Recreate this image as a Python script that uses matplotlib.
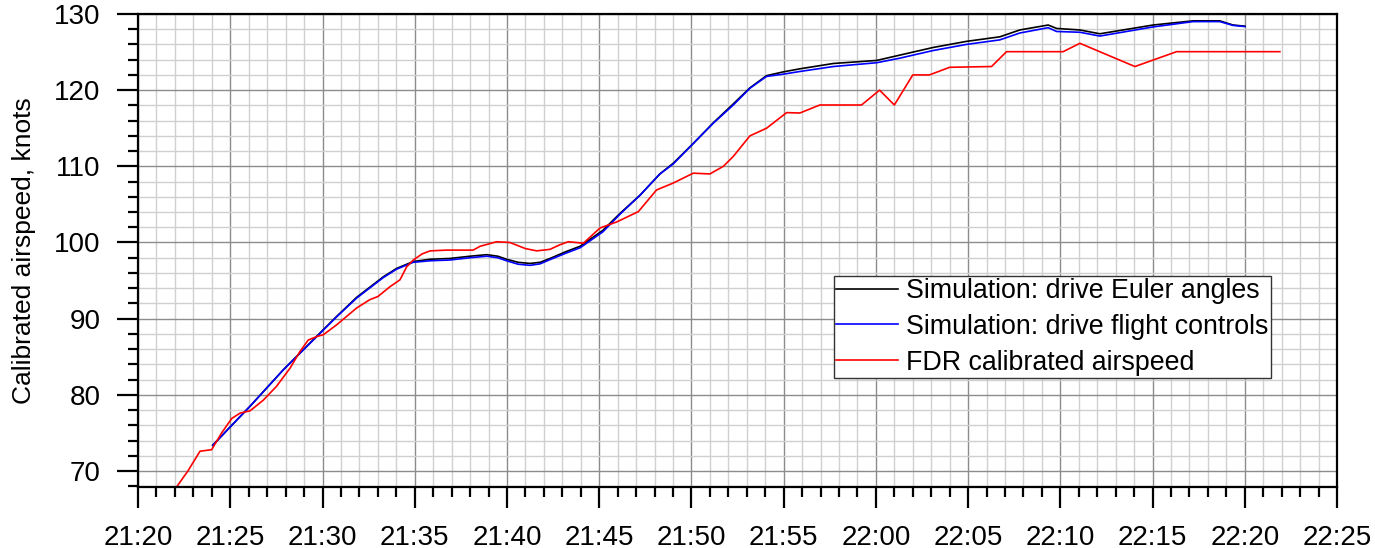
import pandas as pd
import matplotlib
matplotlib.use("Agg")
import matplotlib.pyplot as plt
import matplotlib.dates as mdates

# time in minutes after 21:20
t_sim = [4.05, 5.0, 6.07, 7.88, 9.69, 10.77, 11.85, 12.6, 13.3, 14.02, 14.92, 15.83,
         16.9, 18.0, 18.9, 19.5, 19.98, 20.6, 21.25, 21.8, 22.33, 23.2, 23.96, 25.2,
         26.12, 27.21, 28.29, 29.01, 30.1, 31.18, 32.27, 33.17, 34.07, 34.98, 35.88,
         37.69, 40.04, 41.3, 43.1, 44.9, 46.72, 47.8, 49.34, 49.8, 51.06, 52.14, 55.03,
         57.2, 58.64, 59.36, 60.0]
euler = [73.4, 75.8, 78.5, 83.3, 87.7, 90.3, 92.8, 94.2, 95.5, 96.6, 97.5, 97.8,
         97.9, 98.2, 98.4, 98.2, 97.8, 97.4, 97.25, 97.4, 97.9, 98.8, 99.5, 101.6,
         103.8, 106.2, 109.0, 110.4, 113.0, 115.7, 118.2, 120.3, 121.9, 122.4, 122.8,
         123.5, 123.9, 124.6, 125.6, 126.4, 127.0, 127.9, 128.55, 128.1, 127.9, 127.4, 128.55,
         129.1, 129.1, 128.55, 128.4]
controls = [73.35, 75.8, 78.5, 83.3, 87.65, 90.25, 92.7, 94.1, 95.4, 96.5, 97.4, 97.6,
            97.7, 98.0, 98.2, 98.0, 97.6, 97.15, 97.0, 97.2, 97.75, 98.6, 99.3, 101.4,
            103.7, 106.2, 109.0, 110.3, 113.0, 115.65, 118.05, 120.25, 121.8, 122.1, 122.45,
            123.1, 123.6, 124.2, 125.2, 126.0, 126.6, 127.5, 128.2, 127.7, 127.6, 127.1, 128.3,
            129.0, 129.0, 128.5, 128.35]

t_fdr = [2.0, 2.7, 3.36, 3.99, 4.53, 5.08, 5.53, 6.07, 6.79, 7.5, 8.24, 8.78, 9.23,
         9.69, 10.05, 10.77, 11.85, 12.57, 13.0, 13.66, 14.2, 14.56, 14.92, 15.4, 15.83,
         16.73, 18.17, 18.54, 19.44, 20.16, 21.0, 21.61, 22.33, 22.87, 23.32, 24.14, 25.04,
         25.95, 27.12, 28.11, 29.01, 30.1, 31.0, 31.73, 32.27, 33.17, 34.07, 35.16, 35.88,
         36.96, 39.22, 40.2, 41.0, 42.0, 42.9, 44.0, 46.27, 47.08, 50.15, 51.06, 54.04,
         56.3, 61.9]
fdr = [67.6, 70.0, 72.6, 72.8, 75.0, 76.9, 77.6, 77.9, 79.3, 81.1, 83.5, 85.7, 87.2,
       87.65, 87.9, 89.2, 91.4, 92.5, 92.9, 94.2, 95.1, 96.8, 97.7, 98.5, 98.9,
       99.0, 99.0, 99.5, 100.1, 100.0, 99.2, 98.9, 99.1, 99.7, 100.1, 99.9, 101.9,
       102.7, 104.05, 106.9, 107.8, 109.1, 109.0, 110.0, 111.3, 114.0, 115.0, 117.05, 117.0,
       118.05, 118.05, 120.0, 118.05, 122.0, 122.0, 123.0, 123.1, 125.05, 125.05, 126.15, 123.1,
       125.05, 125.05]

start = pd.Timestamp("2000-01-01 21:20")
x_sim = start + pd.to_timedelta(t_sim, unit="min")
x_fdr = start + pd.to_timedelta(t_fdr, unit="min")

plt.rcParams["font.family"] = ["Liberation Sans", "DejaVu Sans"]
plt.rcParams["font.size"] = 19

fig = plt.figure(figsize=(13.75, 5.48), dpi=100)
ax = fig.add_axes([0.1004, 0.1113, 0.872, 0.8632])

ax.plot(x_sim, euler, color="black", lw=1.2, label="Simulation: drive Euler angles")
ax.plot(x_sim, controls, color="#0000ff", lw=1.2, label="Simulation: drive flight controls")
ax.plot(x_fdr, fdr, color="#ff0000", lw=1.2, label="FDR calibrated airspeed")

ax.set_xlim(start, start + pd.Timedelta(minutes=65))
ax.set_ylim(67.9, 130)
ax.set_yticks([70, 80, 90, 100, 110, 120, 130])
ax.set_yticks(range(68, 131, 2), minor=True)
ax.xaxis.set_major_locator(mdates.MinuteLocator(byminute=range(0, 60, 5)))
ax.xaxis.set_minor_locator(mdates.MinuteLocator())
ax.xaxis.set_major_formatter(mdates.DateFormatter("%H:%M"))

ax.grid(which="minor", color="#d0d0d0", lw=1.0)
ax.grid(which="major", color="#8c8c8c", lw=1.0)
ax.set_axisbelow(True)

ax.tick_params(which="major", direction="out", length=15, width=1.6, pad=12, labelsize=20)
ax.tick_params(which="minor", direction="out", length=7.5, width=1.6)
for s in ax.spines.values():
    s.set_linewidth(1.6)

ax.set_ylabel("Calibrated airspeed, knots", fontsize=19, labelpad=13)

leg = ax.legend(loc="lower right", bbox_to_anchor=(0.945, 0.230), fontsize=19.3,
                frameon=True, fancybox=False, framealpha=1, edgecolor="#333333",
                borderaxespad=0, borderpad=0.1, labelspacing=0.36, handlelength=2.3,
                handletextpad=0.3)
leg.get_frame().set_linewidth(1.0)

fig.savefig("out.png", dpi=100)
